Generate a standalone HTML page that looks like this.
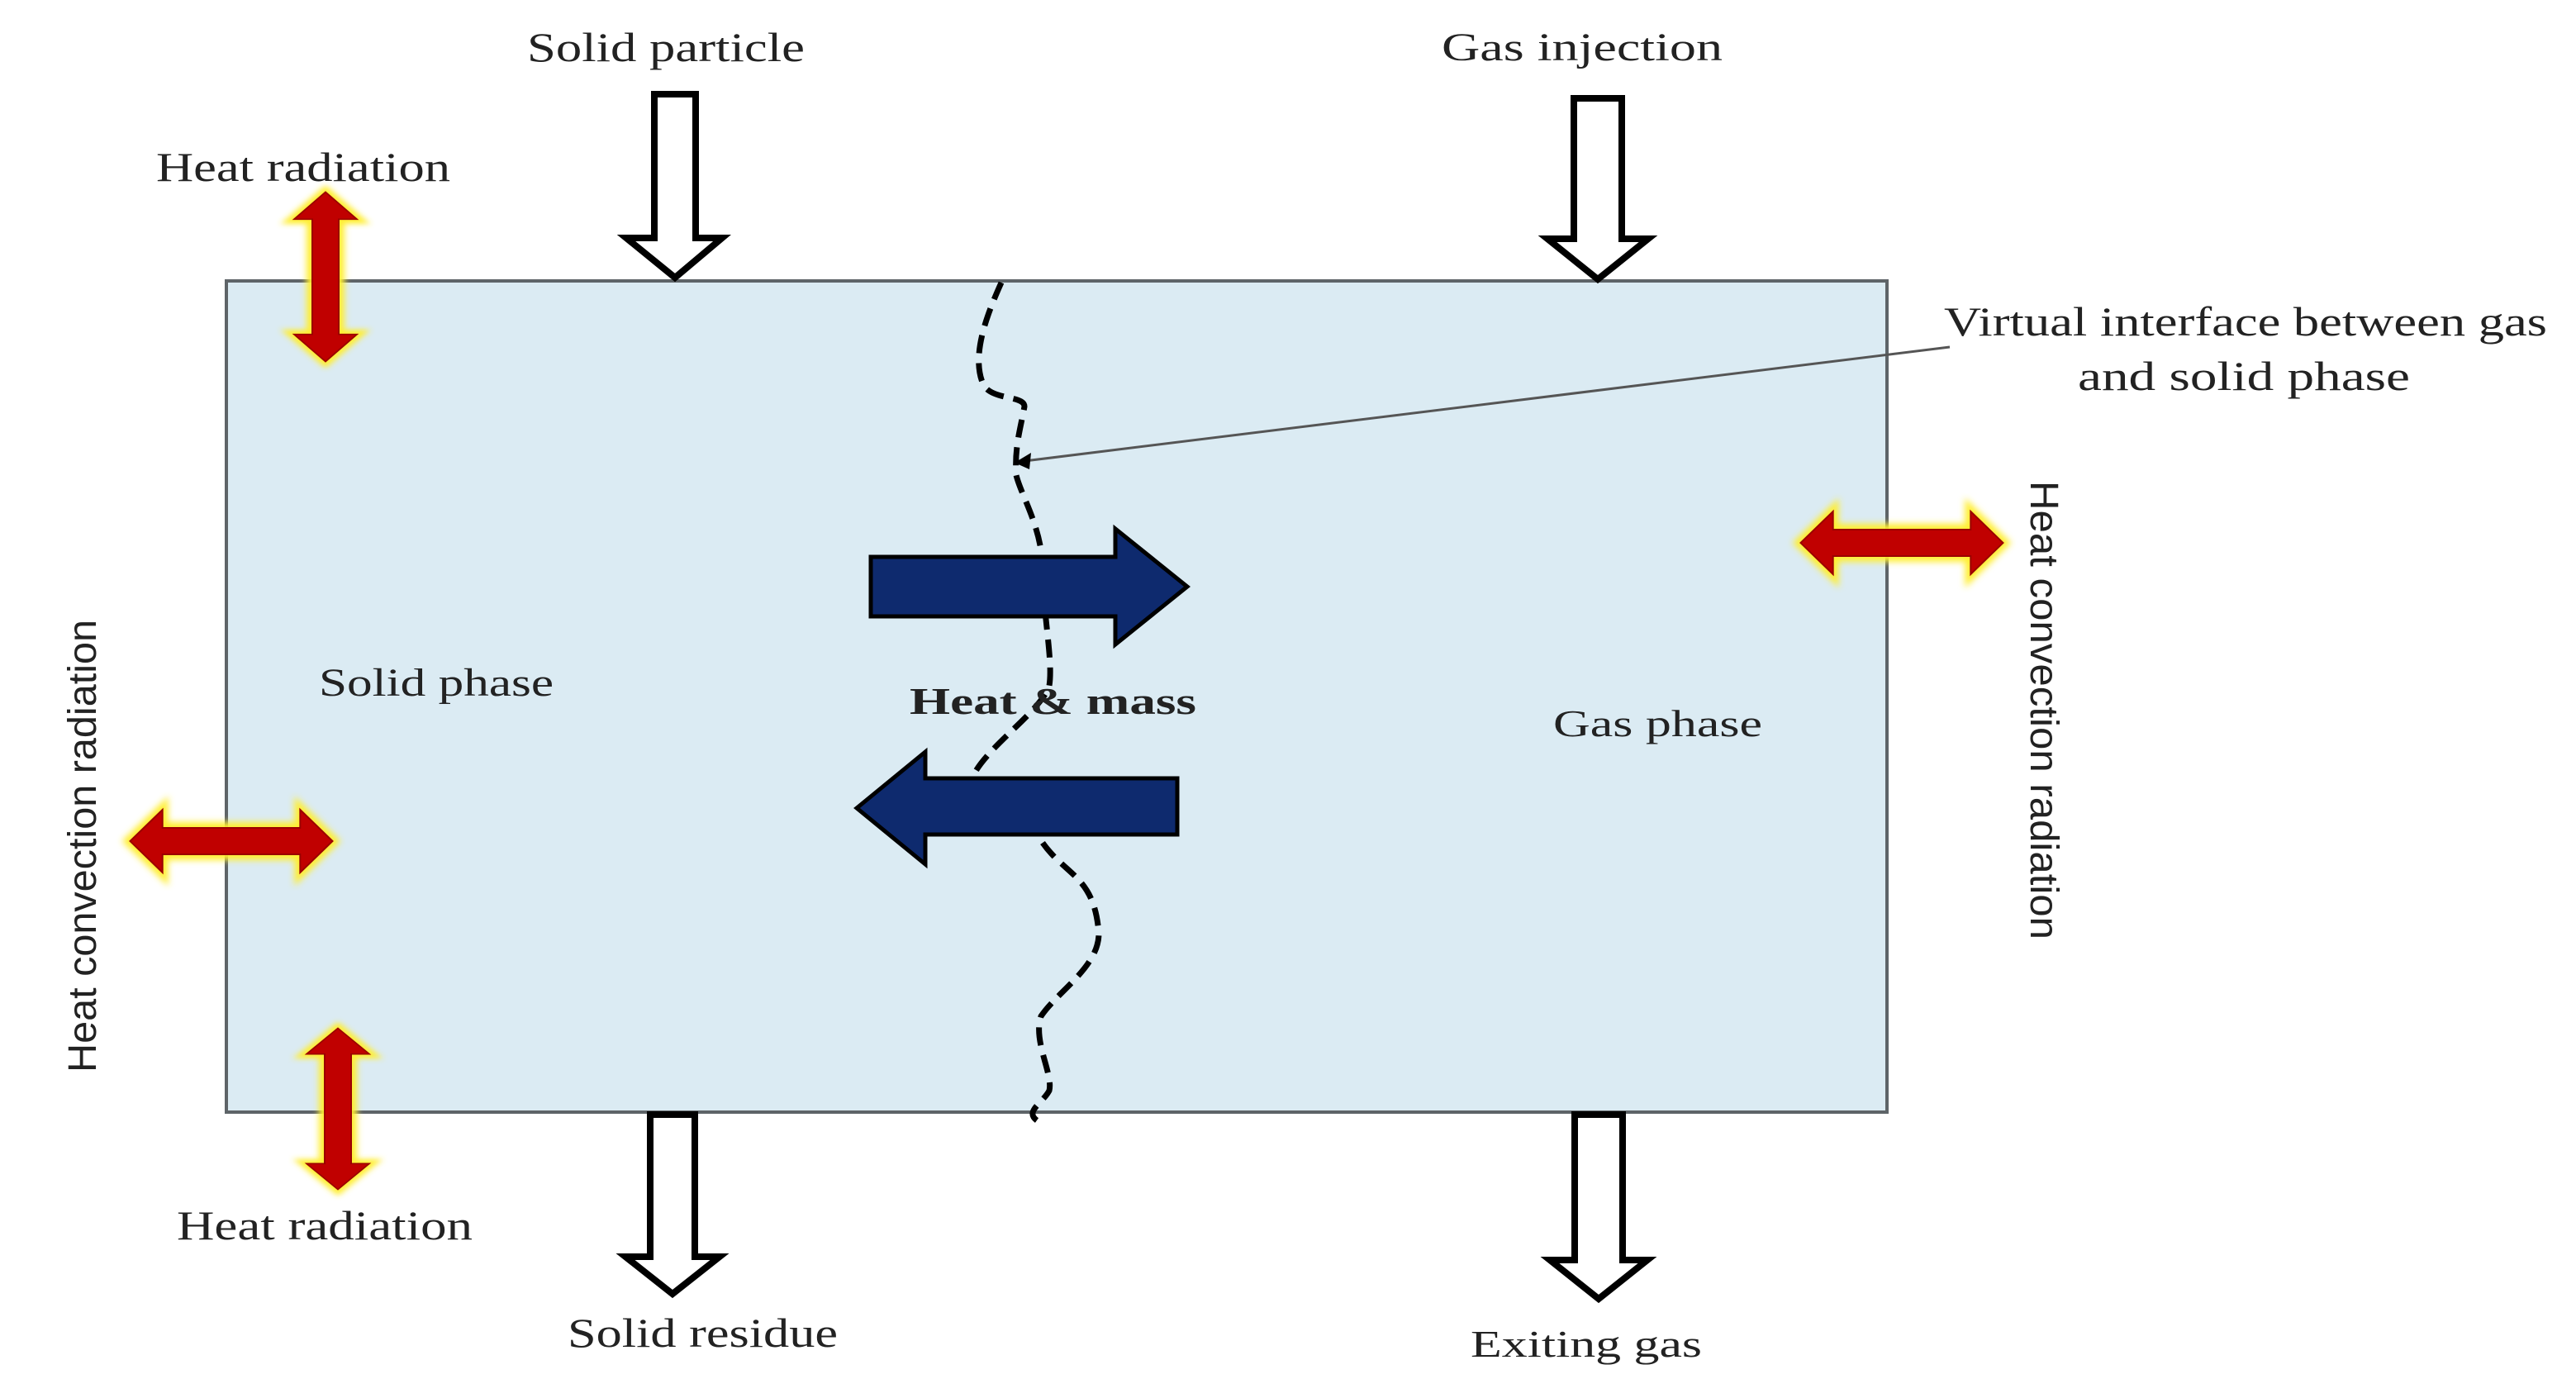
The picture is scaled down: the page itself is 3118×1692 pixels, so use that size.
<!DOCTYPE html>
<html><head><meta charset="utf-8"><style>
html,body{margin:0;padding:0;background:#fff;}
svg{display:block;}
text{font-family:"Liberation Serif",serif;fill:#222;}
</style></head><body>
<svg width="3118" height="1692" viewBox="0 0 3118 1692" xmlns="http://www.w3.org/2000/svg">
<defs>
<filter id="glow" x="-30%" y="-30%" width="160%" height="160%"><feGaussianBlur stdDeviation="4"/></filter>
<g id="dh">
<!-- horizontal double arrow, length 250 centered at 0 -->
<polygon points="-125,0 -85,-38 -85,-16 85,-16 85,-38 125,0 85,38 85,16 -85,16 -85,38" fill="#ffee33" stroke="#ffee33" stroke-width="14" filter="url(#glow)"/>
<polygon points="-125,0 -85,-38 -85,-16 85,-16 85,-38 125,0 85,38 85,16 -85,16 -85,38" fill="#c00000" stroke="#9a0000" stroke-width="2"/>
</g>
</defs>
<rect x="274" y="340" width="2010" height="1006" fill="#dbebf3" stroke="#5e6468" stroke-width="4"/>

<!-- hollow arrows -->
<g fill="#fff" stroke="#000" stroke-width="8" stroke-linejoin="miter">
<polygon points="792,114 842,114 842,288 874,288 817,336 758,288 792,288"/>
<polygon points="1905,119 1963,119 1963,289 1995,289 1934,338 1873,289 1905,289"/>
<polygon points="787,1349 841,1349 841,1521 871,1521 814,1566 757,1521 787,1521"/>
<polygon points="1906,1349 1964,1349 1964,1525 1994,1525 1935,1572 1876,1525 1906,1525"/>
</g>

<!-- red double arrows -->
<use href="#dh" transform="translate(394,335) rotate(90) scale(0.82,1)"/>
<use href="#dh" transform="translate(280,1018) scale(0.98,1)"/>
<use href="#dh" transform="translate(409,1342) rotate(90) scale(0.78,1)"/>
<use href="#dh" transform="translate(2302,657) scale(0.98,1)"/>

<!-- dashed interface -->
<path d="M1212,342 C1195,380 1175,430 1190,465 C1200,485 1240,478 1240,492 C1235,520 1228,540 1230,575 C1236,600 1262,640 1262,690 C1262,740 1275,800 1270,830 C1260,860 1200,900 1180,935 M1262,1020 C1290,1060 1325,1060 1330,1130 C1330,1170 1280,1200 1260,1230 C1250,1260 1275,1300 1270,1320 C1262,1335 1240,1345 1255,1356" fill="none" stroke="#000" stroke-width="7" stroke-dasharray="22,12"/>

<!-- leader line -->
<line x1="1240" y1="558" x2="2360" y2="420" stroke="#555" stroke-width="3"/>
<polygon points="1228,560 1248,548 1246,568" fill="#000"/>

<!-- navy arrows -->
<polygon points="1054,674 1350,674 1350,640 1437,710 1350,780 1350,746 1054,746" fill="#0e2a6e" stroke="#000" stroke-width="5"/>
<polygon points="1037,978 1120,910 1120,942 1425,942 1425,1010 1120,1010 1120,1046" fill="#0e2a6e" stroke="#000" stroke-width="5"/>

<!-- labels -->
<text x="638" y="74" font-size="50" textLength="336" lengthAdjust="spacingAndGlyphs">Solid particle</text>
<text x="1745" y="73" font-size="48" textLength="340" lengthAdjust="spacingAndGlyphs">Gas injection</text>
<text x="189" y="219" font-size="50" textLength="356" lengthAdjust="spacingAndGlyphs">Heat radiation</text>
<text x="214" y="1500" font-size="50" textLength="358" lengthAdjust="spacingAndGlyphs">Heat radiation</text>
<text x="687" y="1630" font-size="50" textLength="327" lengthAdjust="spacingAndGlyphs">Solid residue</text>
<text x="1780" y="1642" font-size="46" textLength="280" lengthAdjust="spacingAndGlyphs">Exiting gas</text>
<text x="386" y="842" font-size="48" textLength="284" lengthAdjust="spacingAndGlyphs">Solid phase</text>
<text x="1880" y="891" font-size="46" textLength="253" lengthAdjust="spacingAndGlyphs">Gas phase</text>
<text x="1101" y="864" font-size="46" font-weight="bold" textLength="347" lengthAdjust="spacingAndGlyphs">Heat &amp; mass</text>
<text x="2353" y="406" font-size="50" textLength="730" lengthAdjust="spacingAndGlyphs">Virtual interface between gas</text>
<text x="2515" y="472" font-size="50" textLength="402" lengthAdjust="spacingAndGlyphs">and   solid phase</text>
<text transform="translate(116,1298) rotate(-90)" font-size="48" font-family="Liberation Sans" style="font-family:'Liberation Sans',sans-serif" fill="#333" textLength="548" lengthAdjust="spacingAndGlyphs">Heat convection radiation</text>
<text transform="translate(2458,582) rotate(90)" font-size="48" style="font-family:'Liberation Sans',sans-serif" fill="#333" textLength="555" lengthAdjust="spacingAndGlyphs">Heat convection radiation</text>
</svg>
</body></html>
